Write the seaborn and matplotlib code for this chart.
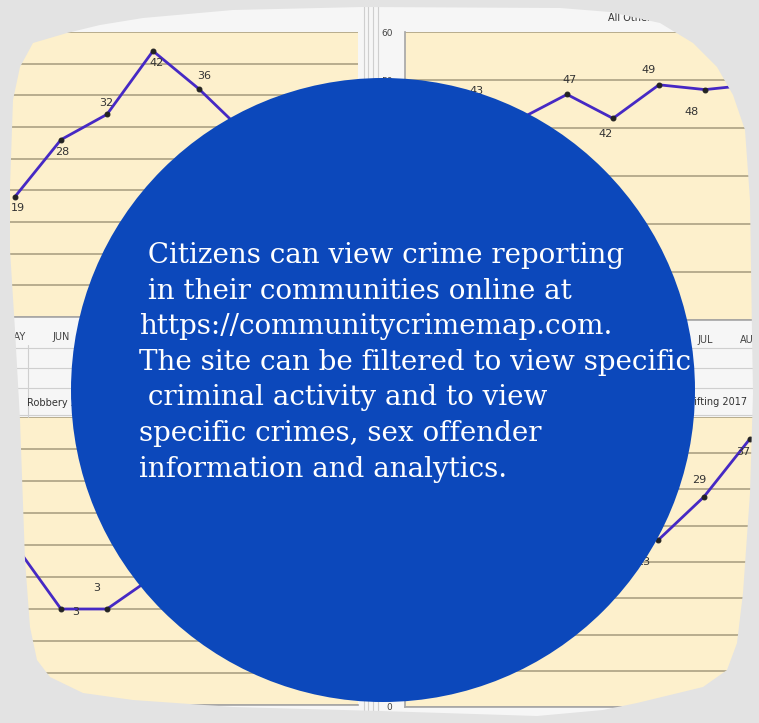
import numpy as np
import pandas as pd
import matplotlib
matplotlib.use("Agg")
import matplotlib.pyplot as plt
import seaborn as sns
from matplotlib.path import Path
from matplotlib.patches import PathPatch, Circle

# 1. Data --------------------------------------------------------------------

months = ["JAN", "FEB", "MAR", "APR", "MAY", "JUN", "JUL", "AUG", "SEP", "OCT", "NOV", "DEC"]

# top left panel (MAY .. DEC), later months hidden behind the circle
tl_months = ["MAY", "JUN", "JUL", "AUG", "SEP", "OCT", "NOV", "DEC"]
tl_values = [19, 28, 32, 42, 36, 29, 31, 27]

# top right panel "All Other Offenses 2017" (JAN .. AUG)
tr_months = ["JAN", "FEB", "MAR", "APR", "MAY", "JUN", "JUL", "AUG"]
tr_values = [44, 43, 42, 47, 42, 49, 48, 49]

# bottom left panel "Robbery 2017" (MAY .. DEC)
bl_months = ["MAY", "JUN", "JUL", "AUG", "SEP", "OCT", "NOV", "DEC"]
bl_values = [5, 3, 3, 4, 5, 6, 4, 5]

# bottom right panel "... 2017" (JAN .. AUG)
br_months = ["JAN", "FEB", "MAR", "APR", "MAY", "JUN", "JUL", "AUG"]
br_values = [18, 14, 20, 22, 25, 23, 29, 37]

message = [
    " Citizens can view crime reporting",
    " in their communities online at",
    "https://communitycrimemap.com.",
    "The site can be filtered to view specific",
    " criminal activity and to view",
    "specific crimes, sex offender",
    "information and analytics.",
]

# label offsets in pixels (dx, dy) for the excel style data labels
tl_offsets = [(3, -11), (1, -12), (-1, 11), (4, -12), (5, 13), (0, 12), (0, 12), (0, 12)]
tr_offsets = [(0, 14), (2, 23), (0, -16), (3, 14), (-7, -16), (-10, 15), (-13, -22), (0, 14)]
bl_offsets = [(3, -11), (15, -3), (-10, 21), (0, 14), (0, 14), (0, 14), (0, 14), (0, 14)]
br_offsets = [(0, 14), (0, 14), (0, 14), (0, 14), (0, 14), (-15, -22), (-5, 17), (-7, -13)]

# 2. Figure ------------------------------------------------------------------

W, H = 759, 723
CX, CY, R = 383, 390, 312   # blue circle, pixels from top-left
sns.set_theme(style="white")
plt.rcParams['font.family'] = ['DejaVu Sans']

fig = plt.figure(figsize=(W / 100, H / 100), dpi=100)
fig.patch.set_facecolor('#f6f6f6')


def box(x0, y0, x1, y1):
    # pixel box (y from the top) -> figure fraction
    return [x0 / W, 1 - y1 / H, (x1 - x0) / W, (y1 - y0) / H]


cream = '#fdf0cc'
grid_col = '#b8ad8e'
line_col = '#4629c4'
panels = []


def panel(rect, month_list, values, offsets, ymax, ystep, jan_px, left_axis):
    ax = fig.add_axes(rect)
    pos = [months.index(m) for m in month_list]
    df = pd.DataFrame({'pos': pos, 'value': values})
    sns.lineplot(data=df, x='pos', y='value', ax=ax, color=line_col, linewidth=2,
                 marker='o', markersize=3.5, markerfacecolor='#222222',
                 markeredgecolor='#222222')
    for p, v, (dx, dy) in zip(pos, values, offsets):
        ax.annotate(str(v), (p, v), xytext=(dx, dy), textcoords='offset pixels',
                    ha='center', va='center', fontsize=8, color='#333333')
    ax.set_facecolor(cream)
    ax.set_yticks(np.arange(0, ymax + 0.1, ystep))
    ax.yaxis.grid(True, color=grid_col, linewidth=1.4)
    ax.set_xticks(range(12))
    ax.set_xticklabels(months, fontsize=7, color='#444444')
    ax.set_xticks(np.arange(-0.5, 12, 1), minor=True)
    ax.tick_params(axis='x', which='minor', length=3, color='#999999', direction='in')
    ax.tick_params(axis='x', which='major', length=0, pad=11)
    # pixel placement of the month categories (46 px apart)
    x0_px = rect[0] * W
    width_px = rect[2] * W
    start = (x0_px - jan_px) / 46.0
    ax.set_xlim(start, start + width_px / 46.0)
    ax.set_ylim(0, ymax)
    for s in ['top', 'right']:
        ax.spines[s].set_visible(False)
    ax.spines['bottom'].set_color('#a8a8a8')
    if left_axis:
        ax.spines['left'].set_color('#a8a8a8')
        ax.tick_params(axis='y', labelsize=6.5, labelcolor='#444444', length=0, pad=9)
    else:
        ax.spines['left'].set_visible(False)
        ax.set_yticklabels([])
    ax.set_xlabel('')
    ax.set_ylabel('')
    panels.append(ax)
    return ax


panel(box(0, 32, 358, 317), tl_months, tl_values, tl_offsets, 45, 5, 15 - 4 * 46, False)
panel(box(405, 32, 760, 320), tr_months, tr_values, tr_offsets, 60, 10, 429, True)
panel(box(0, 417, 358, 705), bl_months, bl_values, bl_offsets, 9, 1, 15 - 4 * 46, False)
panel(box(405, 417, 760, 707), br_months, br_values, br_offsets, 40, 5, 428, True)

# 3. Overlay: spreadsheet lines, titles, mask, circle and text -----------------

ov = fig.add_axes([0, 0, 1, 1])
ov.set_zorder(10)
ov.set_xlim(0, W)
ov.set_ylim(H, 0)
ov.axis('off')
ov.patch.set_alpha(0)

for y in [348, 368, 388, 415]:
    ov.plot([0, W], [y, y], color='#cfcfcf', linewidth=0.8, zorder=1)
ov.plot([28, 28], [345, 417], color='#cfcfcf', linewidth=0.8, zorder=1)
for x in [364, 368, 373, 378]:
    ov.plot([x, x], [0, H], color='#cfcfcf', linewidth=0.8, zorder=1)

ov.text(608, 18, "All Other Offenses 2017", fontsize=7, color='#333333', va='center', zorder=2)
ov.text(27, 403, "Robbery 2017", fontsize=7, color='#333333', va='center', zorder=2)
ov.text(747, 402, "Shoplifting 2017", fontsize=7, color='#333333', va='center',
        ha='right', zorder=2)

# grey surround with an irregular rounded hole (outline)
blob = np.array([
    (10, 187), (13, 100), (20, 67), (33, 43), (67, 33), (100, 25), (143, 18),
    (233, 10), (363, 7), (560, 8), (610, 12), (660, 23), (693, 43), (717, 67),
    (733, 95), (745, 130), (750, 200), (752, 333), (753, 393), (750, 493),
    (743, 593), (737, 643), (727, 670), (703, 687), (670, 695), (637, 703),
    (603, 710), (537, 716), (380, 711), (233, 707), (133, 700), (83, 693),
    (50, 677), (37, 660), (30, 627), (25, 560), (20, 420), (15, 330), (10, 250),
], dtype=float)
inner = blob[::-1]
outer = np.array([[-5, -5], [W + 5, -5], [W + 5, H + 5], [-5, H + 5]])
verts = np.vstack([outer, outer[:1], inner, inner[:1]])
codes = ([Path.MOVETO] + [Path.LINETO] * 3 + [Path.CLOSEPOLY]
         + [Path.MOVETO] + [Path.LINETO] * (len(inner) - 1) + [Path.CLOSEPOLY])
ov.add_patch(PathPatch(Path(verts, codes), facecolor='#e3e3e3', edgecolor='none', zorder=4))

ov.add_patch(Circle((CX, CY), R, facecolor='#0c48bb', edgecolor='none', zorder=5))

for i, line in enumerate(message):
    ov.text(139, 263 + 35.6 * i, line, fontsize=20, color='white',
            family=['DejaVu Serif'], va='baseline', ha='left', zorder=6)

# hide panel texts that sit completely behind the circle (they can't be seen anyway)
fig.canvas.draw()
for ax in panels:
    texts = ax.get_xticklabels() + ax.get_yticklabels() + [t for t in ax.texts]
    for t in texts:
        bb = t.get_window_extent()
        corners = [(bb.x0, H - bb.y0), (bb.x1, H - bb.y0), (bb.x0, H - bb.y1), (bb.x1, H - bb.y1)]
        if all((x - CX) ** 2 + (y - CY) ** 2 < R ** 2 for x, y in corners):
            t.set_visible(False)

fig.savefig('out.png', dpi=100, facecolor=fig.get_facecolor())
